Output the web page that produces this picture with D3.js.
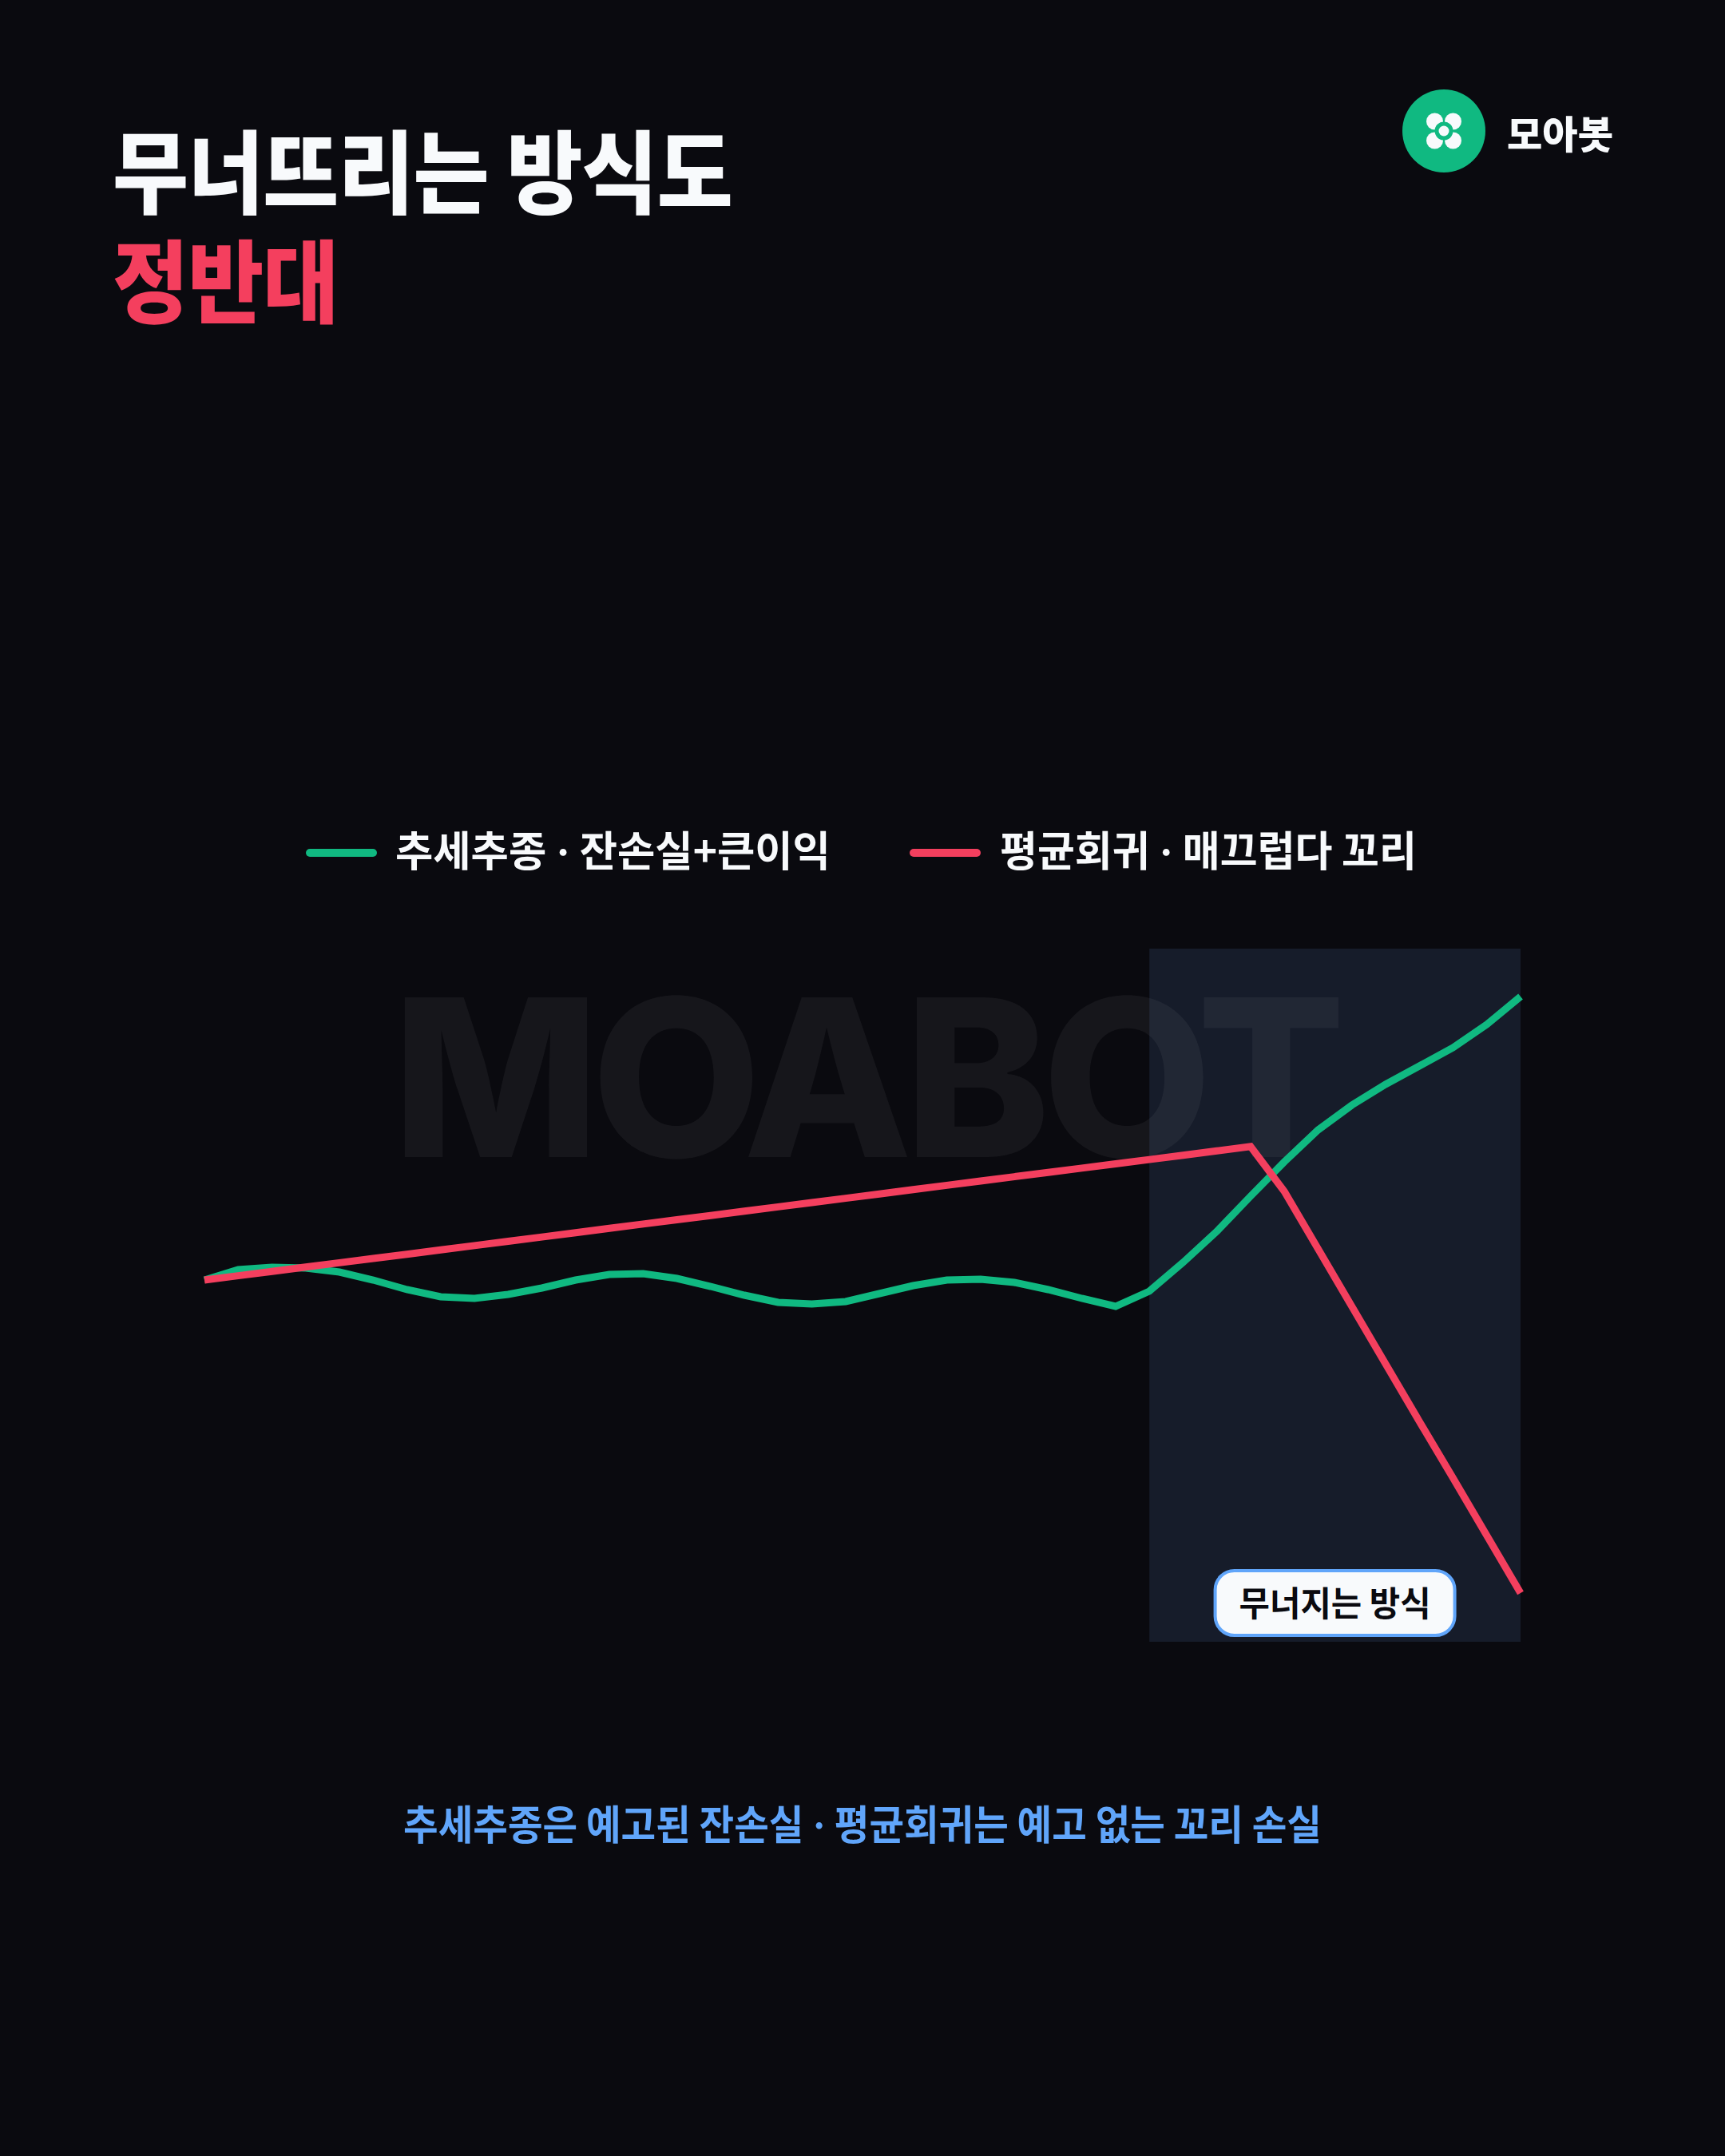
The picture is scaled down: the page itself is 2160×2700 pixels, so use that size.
<!DOCTYPE html>
<html><head><meta charset="utf-8">
<script src="https://cdn.jsdelivr.net/npm/d3@7/dist/d3.min.js"></script>
<style>html,body{margin:0;padding:0;background:#0a0a0f;} svg{display:block}</style>
</head><body>
<svg id="chart" width="2160" height="2700"></svg>
<script>
// ---------- data ----------
const steps = d3.range(40);
const trendSeries = [100.0,101.3,101.6,101.5,101.0,100.0,98.8,97.9,97.7,98.2,
  99.0,100.0,100.7,100.8,100.2,99.2,98.1,97.2,97.0,97.3,
  98.3,99.3,100.0,100.1,99.7,98.8,97.7,96.7,98.6,102.2,
  106.1,110.5,114.8,118.8,121.9,124.5,126.8,129.1,132.0,135.5];
const meanRevSeries = [100.00,100.54,101.08,101.62,102.16,102.70,103.23,103.77,104.31,104.85,
  105.39,105.93,106.47,107.01,107.55,108.08,108.62,109.16,109.70,110.24,
  110.78,111.32,111.86,112.40,112.94,113.47,114.01,114.55,115.09,115.63,
  116.17,116.71,111.1,103.9,96.7,89.5,82.3,75.2,68.0,60.8];
const collapseRange = [28, 39];
const seriesNames = ["추세추종 · 잔손실+큰이익", "평균회귀 · 매끄럽다 꼬리"];
const titleLine1 = "무너뜨리는 방식도";
const titleLine2 = "정반대";
const brandName = "모아봇";
const watermark = "MOABOT";
const collapseLabel = "무너지는 방식";
const caption = "추세추종은 예고된 잔손실 · 평균회귀는 예고 없는 꼬리 손실";
const yDomain = [54.7, 141.5];

// ---------- style ----------
const C = {bg:"#0a0a0f", green:"#10b981", red:"#f43f5e", white:"#f8fafc",
  shade:"#161c2a", blue:"#60a5fa"};
const KR = "'Noto Sans CJK KR','Noto Sans',sans-serif";
const LATIN = "Inter,'Noto Sans',sans-serif";

const svg = d3.select("#chart");
svg.append("rect").attr("width",2160).attr("height",2700).attr("fill",C.bg);

// text helper: fit to a target width by horizontal scaling; middle dot in a Latin face
function fitText(parent, str, o){
  const g = parent.append("g");
  const t = g.append("text")
    .attr("font-family", o.family || KR)
    .attr("font-size", o.size)
    .attr("font-weight", o.weight || 700)
    .attr("letter-spacing", o.spacing || 0)
    .attr("fill", o.color)
    .attr("text-anchor", o.anchor || "start");
  const parts = str.split(" · ");
  parts.forEach((p,i)=>{
    if(i>0) t.append("tspan").attr("font-family", LATIN).text(" · ");
    t.append("tspan").text(p);
  });
  const bb = t.node().getBBox();
  const s = o.width ? o.width / bb.width : 1;
  g.attr("transform", `translate(${o.x},${o.y}) scale(${s},1)`);
  return g;
}

// ---------- title (one text, two lines) ----------
const tg = svg.append("g");
const tt = tg.append("text")
  .attr("font-family", KR).attr("font-size", 113).attr("font-weight", 900)
  .attr("letter-spacing", -1);
const ts1 = tt.append("tspan").attr("x",0).attr("y",0).attr("fill",C.white).text(titleLine1);
tt.append("tspan").attr("x",0).attr("y",137).attr("fill",C.red).text(titleLine2);
const tw = ts1.node().getComputedTextLength();
tg.attr("transform", `translate(141,258) scale(${776/tw},1)`);

// ---------- brand ----------
const logo = svg.append("g").attr("transform","translate(1808,164)");
logo.append("circle").attr("r",52).attr("fill",C.green);
[[-11.5,-12],[11.5,-12],[-11.5,12],[11.5,12]].forEach(p=>{
  logo.append("circle").attr("cx",p[0]).attr("cy",p[1]).attr("r",10.5).attr("fill",C.white);
});
logo.append("circle").attr("r",11.5).attr("fill",C.green);
logo.append("circle").attr("r",6.5).attr("fill",C.white);
fitText(svg, brandName, {x:1887, y:186, size:48, weight:800, color:C.white, width:133});

// ---------- legend ----------
const legendItems = [
  {name: seriesNames[0], color: C.green, x0: 388, x1: 467, tx: 495, w: 545},
  {name: seriesNames[1], color: C.red, x0: 1144, x1: 1223, tx: 1252, w: 522}
];
legendItems.forEach(d=>{
  svg.append("line").attr("x1",d.x0).attr("x2",d.x1).attr("y1",1068).attr("y2",1068)
    .attr("stroke",d.color).attr("stroke-width",10).attr("stroke-linecap","round");
  fitText(svg, d.name, {x:d.tx, y:1085, size:52, weight:700, color:C.white, width:d.w});
});

// ---------- chart ----------
const x = d3.scaleLinear().domain([0, steps.length-1]).range([256, 1904]);
const y = d3.scaleLinear().domain(yDomain).range([2056, 1188]);

svg.append("rect")
  .attr("x", x(collapseRange[0])).attr("width", x(collapseRange[1]) - x(collapseRange[0]))
  .attr("y", y(yDomain[1])).attr("height", y(yDomain[0]) - y(yDomain[1]))
  .attr("fill", C.shade);

svg.append("text").text(watermark)
  .attr("x",1083).attr("y",1449).attr("text-anchor","middle")
  .attr("font-family","Inter, 'Liberation Sans', sans-serif")
  .attr("font-size",275).attr("font-weight",800).attr("letter-spacing",-10)
  .attr("fill","#ffffff").attr("fill-opacity",0.05);

const line = d3.line().x((d,i)=>x(steps[i])).y(d=>y(d));
svg.append("path").datum(trendSeries).attr("d", line)
  .attr("fill","none").attr("stroke",C.green).attr("stroke-width",9);
svg.append("path").datum(meanRevSeries).attr("d", line)
  .attr("fill","none").attr("stroke",C.red).attr("stroke-width",9);

// annotation box
const cx = (x(collapseRange[0]) + x(collapseRange[1]))/2;
svg.append("rect").attr("x",cx-150).attr("y",1967).attr("width",300).attr("height",81)
  .attr("rx",24).attr("fill",C.white).attr("stroke",C.blue).attr("stroke-width",4);
fitText(svg, collapseLabel, {x:cx, y:2024, size:43, weight:700, color:"#0a0a0f", width:240, anchor:"middle"});

// ---------- caption ----------
fitText(svg, caption, {x:1080, y:2304, size:51, weight:700, color:C.blue, width:1150, anchor:"middle"});
</script>
</body></html>
